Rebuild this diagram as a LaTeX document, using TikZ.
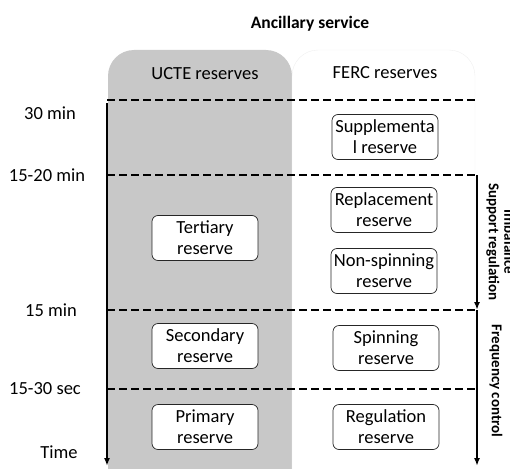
\documentclass[tikz,border=0pt]{standalone}
\usepackage{fontspec}
\setmainfont{Carlito}
\usetikzlibrary{arrows.meta}

\definecolor{uctegray}{RGB}{200,200,200}

\tikzset{
  reserve/.style={draw=black!85, fill=white, rounded corners=6pt, align=center,
    minimum width=106pt, minimum height=45pt, inner sep=1pt,
    line width=0.7pt, font=\fontsize{18.5}{21}\selectfont},
  limit/.style={dash pattern=on 8pt off 4pt, line width=1.8pt},
  timeaxis/.style={line width=1.8pt, -{Latex[length=8pt,width=6pt]}},
  tick/.style={font=\fontsize{18.5}{21}\selectfont},
  side/.style={rotate=-90, align=center, font=\bfseries\fontsize{15}{15.5}\selectfont},
}

\begin{document}
\begin{tikzpicture}[x=1pt,y=-1pt]
            \clip (0,0) rectangle (510,468);

            % columns
            \fill[uctegray, rounded corners=26pt] (108,50) rectangle (292,530);
            \draw[black!6, fill=white, rounded corners=26pt] (292,50) rectangle (475,530);

            \node[font=\bfseries\fontsize{17.5}{20}\selectfont] (title) at (310,24) {Ancillary service};
            \node[tick] (ucte) at (205,74) {UCTE reserves};
            \node[tick] (ferc) at (385,73) {FERC reserves};

            % time limits
            \coordinate (l30) at (107,100);
            \coordinate (r30) at (475,100);
            \coordinate (l1520) at (107,175);
            \coordinate (r1520) at (477,175);
            \coordinate (l15) at (107,310);
            \coordinate (r15) at (477,310);
            \coordinate (l1530) at (107,389);
            \coordinate (r1530) at (477,389);
            \coordinate (ttop) at (107,103);
            \coordinate (tend) at (107,466);
            \coordinate (fend) at (477,466);

            \draw[limit] (l30) -- (r30);
            \draw[limit] (l1520) -- (r1520);
            \draw[limit] (l15) -- (r15);
            \draw[limit] (l1530) -- (r1530);

            \draw[timeaxis] (ttop) -- (tend);
            \draw[timeaxis] (r1520) -- (r15);
            \draw[timeaxis] (r15) -- (fend);

            \node[tick] (n30) at (50,113) {30 min};
            \node[tick] (n1520) at (47,175) {15-20 min};
            \node[tick] (n15) at (51,310) {15 min};
            \node[tick] (n1530) at (45,389) {15-30 sec};
            \node[tick] (ntime) at (59,452) {Time};

            % reserves
            \node[reserve] (supp) at (385,137) {Supplementa\\l reserve};
            \node[reserve] (repl) at (384,210) {Replacement\\reserve};
            \node[reserve] (nonspin) at (384,271) {Non-spinning\\reserve};
            \node[reserve] (tert) at (205,238) {Tertiary\\reserve};
            \node[reserve] (sec) at (205,346) {Secondary\\reserve};
            \node[reserve] (spin) at (386,348) {Spinning\\reserve};
            \node[reserve] (prim) at (205,427) {Primary\\reserve};
            \node[reserve] (regu) at (386,427) {Regulation\\reserve};

            \node[side] (support) at (500.5,242) {Imbalance\\Support regulation};
            \node[side] (freq) at (496,381) {Frequency control};
        \end{tikzpicture}
\end{document}
